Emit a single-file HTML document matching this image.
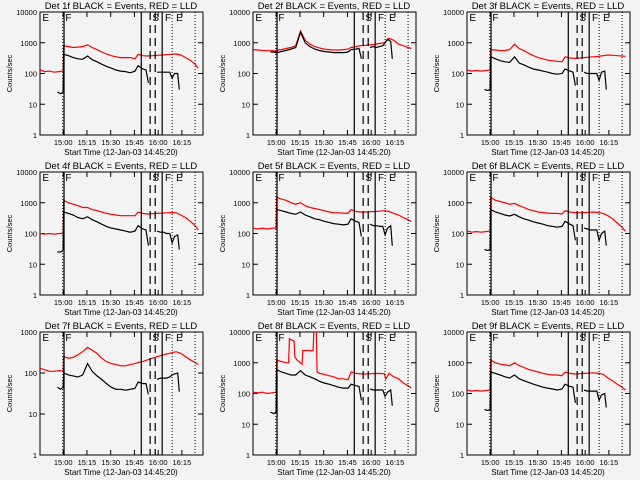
<!DOCTYPE html>
<html><head><meta charset="utf-8">
<style>
html,body{margin:0;padding:0;background:#f3f3f3;}
svg{display:block;font-family:"Liberation Sans",sans-serif;}
</style></head>
<body>
<svg id="chart" width="640" height="480" viewBox="0 0 640 480"></svg>
<script>
const detectorNames = ["1f","2f","3f","4f","5f","6f","7f","8f","9f"];
const yDecadesMax = [4,4,4,4,4,4,3,4,4];
const xTickLabels = ["15:00","15:15","15:30","15:45","16:00","16:15"];
const xTickMinutes = [14.67,29.67,44.67,59.67,74.67,89.67];
const solidLineTimes = [15.2,64,77.2];
const dashedLineTimes = [69.6,72.8];
const dottedLineTimes = [14.4,83.5,98];
const TR = [0,3,6,9,12,14.6,15,18,21,24,27,30,33,36,39,42,45,48,51,54,57,60,62,65,68,71,74,77,80,83,86,89,92,95,98,100];
const TR8 = [0,3,6,9,12,14.6,15,18,21,22.5,23,26,26.5,28,31,31.5,36,36.5,38,38.5,40,40.5,42,45,48,51,54,57,60,62,65,70,75,80,83,84,86,89,92,95,98,100];
const TB = [11,13,14.6,15,18,21,24,27,30,33,36,39,42,45,48,51,54,57,60,62,65,67,68.5,70,72,74,76,78,80,82,83.5,85,87,88];
const redTimes = [TR,TR,TR,TR,TR,TR,TR,TR8,TR];
const redSeries = [
[130,115,120,110,115,120,800,750,700,720,750,850,700,600,500,430,380,350,330,330,330,300,420,380,370,380,390,400,410,420,430,400,330,270,200,150],
[600,580,560,550,550,540,580,600,650,700,800,2400,1200,900,750,680,620,600,580,580,600,620,700,750,800,820,850,880,950,1000,1400,1200,900,800,700,650],
[130,120,125,120,125,130,600,580,550,560,600,900,650,550,450,380,330,300,270,260,250,240,350,320,310,320,330,340,350,360,380,400,390,380,370,360],
[100,95,100,95,100,100,1200,1000,900,800,700,700,600,550,500,450,420,400,380,380,380,380,500,450,430,440,450,460,470,480,470,400,330,250,180,130],
[150,140,150,140,150,150,1500,1300,1200,1000,900,1000,800,700,650,600,550,500,480,470,460,450,600,520,500,500,510,520,530,550,520,450,400,330,280,240],
[120,110,115,110,115,120,1500,1200,1100,1000,900,950,800,700,600,550,500,480,460,450,450,430,550,500,480,470,480,490,500,480,450,380,300,220,160,120],
[130,120,110,110,115,110,250,230,240,280,330,420,360,300,230,190,170,160,150,150,160,170,180,190,210,230,250,270,290,310,330,300,250,210,180,160],
[110,105,110,100,105,110,1200,1100,1000,1000,6000,5000,1500,1200,900,2500,2500,2400,2500,12000,12000,500,450,420,380,350,300,300,280,500,450,430,440,450,440,300,450,350,300,220,180,150],
[130,120,125,120,125,130,1200,1000,900,850,800,1000,800,700,600,550,500,450,420,400,400,380,500,450,430,440,450,460,470,450,420,320,260,200,160,130]
];
const blackSeries = [
[25,22,25,420,380,330,300,290,370,280,240,200,170,150,130,120,115,105,120,180,140,130,50,null,null,110,110,110,110,110,70,100,100,30],
[500,500,480,480,520,560,620,700,2200,1000,750,620,560,520,500,480,480,480,500,600,620,650,300,null,null,700,750,700,750,800,1000,1300,1100,300],
[30,28,30,350,300,260,240,230,350,220,190,160,140,130,120,110,100,95,100,140,120,110,40,null,null,110,100,100,100,100,60,110,120,30],
[25,25,28,500,450,400,330,300,350,280,240,200,170,150,140,130,120,110,120,180,140,130,40,null,null,120,110,110,100,100,50,80,90,30],
[null,null,null,600,550,500,450,420,500,400,350,300,280,250,230,210,200,190,200,300,250,230,80,null,null,200,180,180,170,170,90,150,180,40],
[30,28,30,600,500,450,400,370,420,350,300,270,240,220,200,180,170,160,170,250,200,180,60,null,null,150,140,130,130,130,60,100,120,40],
[45,40,45,100,90,85,80,90,170,110,85,70,55,45,40,40,38,40,42,60,55,55,30,null,null,70,75,75,75,80,90,95,100,35],
[25,22,25,600,500,450,400,400,550,400,350,300,250,220,200,180,160,150,150,200,180,170,60,null,null,140,130,130,130,130,80,110,130,40],
[30,28,30,500,450,400,350,320,400,300,260,230,200,180,160,150,140,130,140,200,170,160,50,null,null,130,120,120,120,120,60,90,100,35]
];
const phaseLetters = ["E","F","S","F","E"];
const phaseLetterTimes = [1.5,16,71,79,86];

const NS="http://www.w3.org/2000/svg";
const svg=document.getElementById('chart');
function mk(tag,attrs,parent){const e=document.createElementNS(NS,tag);for(const k in attrs)e.setAttribute(k,attrs[k]);(parent||svg).appendChild(e);return e;}
const PX0=40,PX1=203,PY0=12,PY1=135,TMAX=103;

for(let p=0;p<9;p++){
  const ox=[0,213,427][p%3], oy=[0,160,320][Math.floor(p/3)];
  const g=mk('g',{transform:`translate(${ox},${oy})`});
  
  
  const dmax=yDecadesMax[p];
  const xs=t=>PX0+(PX1-PX0)*t/TMAX;
  const ys=v=>PY1-(PY1-PY0)*Math.log10(v)/dmax;
  const cp=mk('clipPath',{id:'cp'+p},g);
  mk('rect',{x:PX0,y:PY0,width:PX1-PX0,height:PY1-PY0},cp);
  const ti=mk('text',{x:121,y:9,'text-anchor':'middle','font-size':'9.5',fill:'#000'},g);
  ti.textContent='Det '+detectorNames[p]+' BLACK = Events, RED = LLD';
  
  
  const fr=mk('rect',{x:PX0,y:PY0,width:PX1-PX0,height:PY1-PY0,fill:'none',stroke:'#000','stroke-width':1},g);
  
  
  for(let d=0;d<=dmax;d++){
    const y=ys(Math.pow(10,d));
    mk('line',{x1:PX0,x2:PX0+5,y1:y,y2:y,stroke:'#000'},g);
    mk('line',{x1:PX1-5,x2:PX1,y1:y,y2:y,stroke:'#000'},g);
    const tl=mk('text',{x:PX0-3,y:y+3,'text-anchor':'end','font-size':'7.5',fill:'#000'},g);
    tl.textContent=String(Math.pow(10,d));
    
    
  }
  const yt=mk('text',{x:0,y:0,transform:`translate(12,${(PY0+PY1)/2}) rotate(-90)`,'text-anchor':'middle','font-size':'7.5',fill:'#000'},g);
  yt.textContent='Counts/sec';
  
  
  for(let i=0;i<xTickMinutes.length;i++){
    const x=xs(xTickMinutes[i]);
    mk('line',{x1:x,x2:x,y1:PY1,y2:PY1-5,stroke:'#000'},g);
    mk('line',{x1:x,x2:x,y1:PY0,y2:PY0+5,stroke:'#000'},g);
    const xl=mk('text',{x:x,y:PY1+10,'text-anchor':'middle','font-size':'7.5',fill:'#000'},g);
    xl.textContent=xTickLabels[i];
    
    
  }
  const xt=mk('text',{x:121,y:PY1+20,'text-anchor':'middle','font-size':'8',fill:'#000'},g);
  xt.textContent='Start Time (12-Jan-03 14:45:20)';
  
  
  function line(ts,vs,color,name){
    let d='',pen=false;
    for(let i=0;i<ts.length;i++){
      if(vs[i]==null){pen=false;continue;}
      d+=(pen?'L':'M')+xs(ts[i]).toFixed(1)+','+ys(vs[i]).toFixed(1);pen=true;
    }
    const pth=mk('path',{d:d,fill:'none',stroke:color,'stroke-width':1.2,'clip-path':`url(#cp${p})`},g);
    
    
  }
  line(redTimes[p],redSeries[p],'#ff0000','red-lld-series');
  line(TB,blackSeries[p],'#000000','black-events-series');
  solidLineTimes.forEach(t=>{const l=mk('line',{x1:xs(t),x2:xs(t),y1:PY0,y2:PY1,stroke:'#000','stroke-width':1.2},g);});
  dashedLineTimes.forEach(t=>{const l=mk('line',{x1:xs(t),x2:xs(t),y1:PY0,y2:PY1,stroke:'#000','stroke-width':1.2,'stroke-dasharray':'8,5'},g);});
  dottedLineTimes.forEach(t=>{const l=mk('line',{x1:xs(t),x2:xs(t),y1:PY0,y2:PY1,stroke:'#000','stroke-width':1,'stroke-dasharray':'1,2'},g);});
  phaseLetters.forEach((s,i)=>{const tx=mk('text',{x:xs(phaseLetterTimes[i]),y:PY0+9,'font-size':'10',fill:'#000'},g);tx.textContent=s;});
}
</script>
</body></html>
